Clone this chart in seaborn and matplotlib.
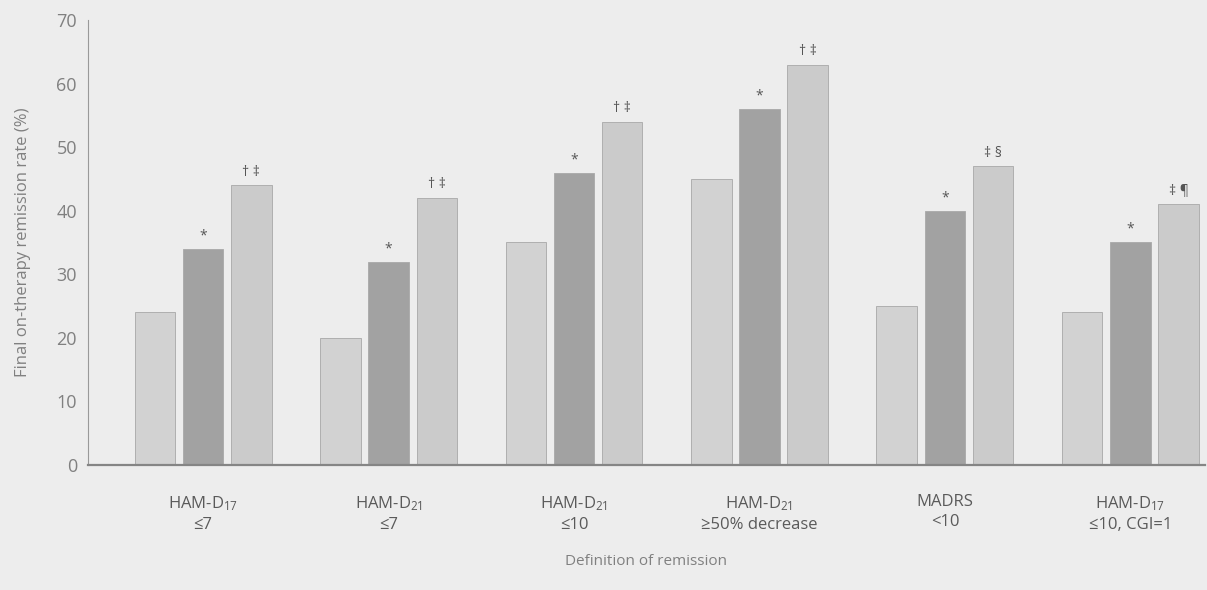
import matplotlib
matplotlib.use("Agg")
import matplotlib.pyplot as plt
import pandas as pd
import seaborn as sns

# data
categories = [
    "HAM-D$_{17}$\n≤7",
    "HAM-D$_{21}$\n≤7",
    "HAM-D$_{21}$\n≤10",
    "HAM-D$_{21}$\n≥50% decrease",
    "MADRS\n<10",
    "HAM-D$_{17}$\n≤10, CGI=1",
]
series = ["A", "B", "C"]
values_a = [24, 20, 35, 45, 25, 24]
values_b = [34, 32, 46, 56, 40, 35]
values_c = [44, 42, 54, 63, 47, 41]
marks_b = ["*"] * 6
marks_c = ["† ‡", "† ‡", "† ‡", "† ‡", "‡ §", "‡ ¶"]

df = pd.DataFrame({
    "category": categories * 3,
    "series": [s for s in series for _ in categories],
    "value": values_a + values_b + values_c,
})

sns.set_style("white")
plt.rcParams["font.family"] = ["Open Sans", "DejaVu Sans"]
plt.rcParams["mathtext.default"] = "regular"

bg = "#ededed"
txt = "#808080"
palette = {"A": "#d2d2d2", "B": "#a2a2a2", "C": "#cbcbcb"}

fig = plt.figure(figsize=(12.07, 5.90), dpi=100, facecolor=bg)
ax = fig.add_axes([0.073, 0.212, 0.925, 0.754], facecolor=bg)

sns.barplot(data=df, x="category", y="value", hue="series", palette=palette,
            width=0.78, gap=0.16, ax=ax, legend=False,
            edgecolor="#a8a8a8", linewidth=0.6)

for cont, labels in zip(ax.containers[1:], [marks_b, marks_c]):
    ax.bar_label(cont, labels=labels, padding=4, fontsize=10, color="#555555")

ax.set_ylim(0, 70)
ax.set_xlim(-0.62, 5.4)
ax.set_yticks(range(0, 71, 10))
ax.tick_params(axis="y", direction="in", length=5, width=1, color="#888888",
               labelsize=13, labelcolor=txt, pad=8)
ax.tick_params(axis="x", length=0, labelsize=12, labelcolor="#5a5a5a", pad=21)
for lbl in ax.get_xticklabels():
    lbl.set_linespacing(1.35)

for side in ("top", "right"):
    ax.spines[side].set_visible(False)
ax.spines["left"].set_color("#999999")
ax.spines["bottom"].set_color("#858585")
ax.spines["bottom"].set_linewidth(1.6)

ax.set_ylabel("Final on-therapy remission rate (%)", fontsize=12, color=txt, labelpad=18)
ax.set_xlabel("Definition of remission", fontsize=11, color=txt, labelpad=15)

fig.savefig("out.png", dpi=100, facecolor=bg)
